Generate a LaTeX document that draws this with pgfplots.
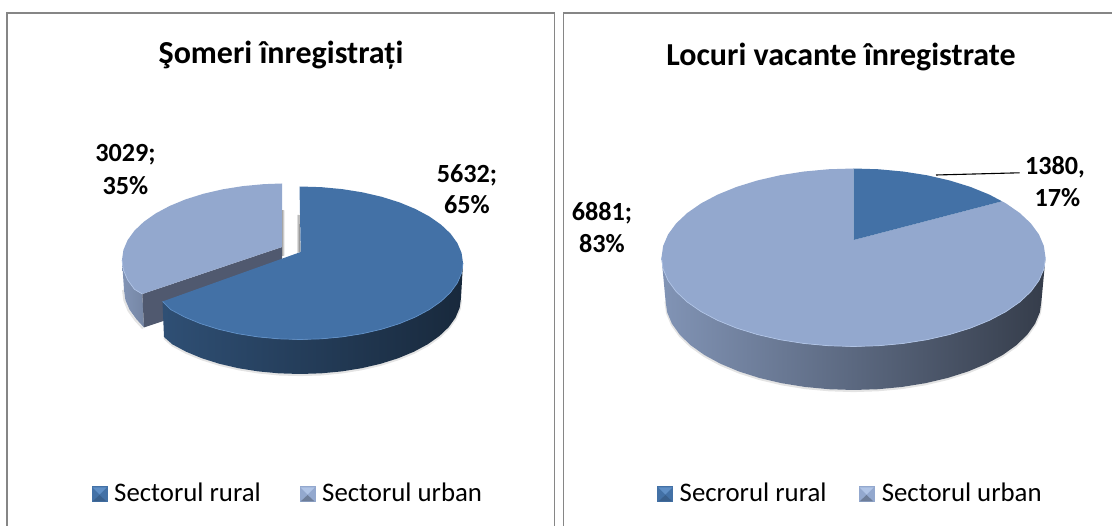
\documentclass[border=0pt]{standalone}
\usepackage{fontspec}
\setmainfont{Carlito}
\usepackage{pgfplots}
\pgfplotsset{compat=1.18}
\definecolor{ruralTop}{HTML}{4371A6}
\definecolor{urbanTop}{HTML}{93A8CE}
\definecolor{ruralRim}{HTML}{5F8FC6}
\definecolor{urbanRim}{HTML}{B0C4E6}
\definecolor{frameC}{HTML}{868686}
\definecolor{wallC}{HTML}{50596F}
\newcommand{\titlefont}{\fontsize{32}{36}\selectfont\bfseries}
\newcommand{\labelfont}{\fontsize{26.2}{32}\selectfont\bfseries}
\newcommand{\legfont}{\fontsize{26.8}{30}\selectfont}
\newcommand{\legmark}[5]{%
 \addplot[draw=none,fill=#4] coordinates {(#1,#2) (#1+16,#2) (#1+16,#2+15.5) (#1,#2+15.5)} --cycle;
 \addplot[draw=none,fill=#3] coordinates {(#1+1,#2+1) (#1+15,#2+1) (#1+8,#2+8)} --cycle;
 \addplot[draw=none,fill=#5] coordinates {(#1+1,#2+15) (#1+15,#2+15) (#1+8,#2+8.5)} --cycle;
}
\pgfplotsset{panel/.style={
  scale only axis, width=556pt, height=526pt, at={(#1,0pt)}, anchor=south west,
  ymin=0, ymax=526, y dir=reverse, hide axis, clip=false}}
\begin{document}
\begin{tikzpicture}[x=1pt,y=1pt]
\useasboundingbox (0,0) rectangle (1112pt,526pt);
% ---------- left panel
\begin{axis}[panel=0pt, xmin=0, xmax=556]
\addplot[draw=frameC,line width=1.4pt] coordinates {(7,526) (7,13) (554.3,13) (554.3,526)};
\node[font=\titlefont] at (axis cs:281,55) {Şomeri înregistrați};
% soft shadows
\addplot[draw=black!30,line width=2.2pt,opacity=.35] coordinates {(461,300) (459.62,309) (455.51,318.7) (448.75,328.1) (439.43,337) (427.74,345.3) (413.84,352.8) (398.02,359.3) (380.5,364.8) (361.61,369.2) (341.67,372.4) (321.01,374.4) (300,375) (278.99,374.4) (258.33,372.4) (238.39,369.2) (219.5,364.8) (201.98,359.3) (186.16,352.8) (172.26,345.3) (164,338)};
\addplot[draw=black!30,line width=2pt,opacity=.35] coordinates {(123,290) (124.4,300.5) (128.5,310.7) (135.2,320) (143,328.5)};
% urban slice outer side
\addplot[draw=none,left color=urbanTop!88!black,right color=urbanTop!80!black] coordinates {(142.3,294) (134.4,289.28) (127.56,279.8) (123.4,269.98) (122,260) (124,290) (125.4,300) (129.5,309.7) (136.2,319) (144,327.5)} --cycle;
% urban slice cut wall
\addplot[draw=none,fill=wallC] coordinates {(282,247) (142.3,294) (144,327.5) (282,281)} --cycle;
% urban slice top
\addplot[draw=none,fill=urbanTop] coordinates {(282,247) (142.3,294) (134.4,289.28) (127.56,279.8) (123.4,269.98) (122,260) (123.4,250.02) (127.56,240.2) (134.4,230.72) (143.84,221.75) (155.68,213.43) (169.74,205.91) (185.77,199.3) (203.5,193.75) (222.62,189.32) (242.82,186.11) (263.73,184.16) (282,183.5)} --cycle;
\addplot[draw=urbanRim,line width=.7pt] coordinates {(142.3,294) (134.4,289.28) (127.56,279.8) (123.4,269.98) (122,260)};
% gap shadows
\addplot[draw=none,left color=black!35,right color=white] coordinates {(282,211) (284.5,211) (284.5,256) (282,256)} --cycle;
\addplot[draw=none,left color=white,right color=black!60] coordinates {(296,215) (299.5,215) (300.5,252) (297,253)} --cycle;
% rural slice side
\addplot[draw=none,left color=ruralTop!70!black,middle color=ruralTop!55!black,right color=ruralTop!36!black] coordinates {(463,263) (461.6,272.98) (457.44,282.8) (450.6,292.28) (441.16,301.25) (429.32,309.57) (415.26,317.09) (399.23,323.7) (381.5,329.25) (362.38,333.68) (342.18,336.89) (321.27,338.84) (300,339.5) (278.73,338.84) (257.82,336.89) (237.62,333.68) (218.5,329.25) (200.77,323.7) (184.74,317.09) (170.68,309.57) (162.5,301.5) (164,337) (172.26,344.27) (186.16,351.74) (201.98,358.3) (219.5,363.82) (238.39,368.22) (258.33,371.41) (278.99,373.35) (300,374) (321.01,373.35) (341.67,371.41) (361.61,368.22) (380.5,363.82) (398.02,358.3) (413.84,351.74) (427.74,344.27) (439.43,336) (448.75,327.09) (455.51,317.67) (459.62,307.92) (461,298)} --cycle;
% rural slice top
\addplot[draw=none,fill=ruralTop] coordinates {(300.7,252) (162.5,301.5) (170.68,309.57) (184.74,317.09) (200.77,323.7) (218.5,329.25) (237.62,333.68) (257.82,336.89) (278.73,338.84) (300,339.5) (321.27,338.84) (342.18,336.89) (362.38,333.68) (381.5,329.25) (399.23,323.7) (415.26,317.09) (429.32,309.57) (441.16,301.25) (450.6,292.28) (457.44,282.8) (461.6,272.98) (463,263) (461.6,253.02) (457.44,243.2) (450.6,233.72) (441.16,224.75) (429.32,216.43) (415.26,208.91) (399.23,202.3) (381.5,196.75) (362.38,192.32) (342.18,189.11) (321.27,187.16) (299.5,186.5)} --cycle;
\addplot[draw=ruralRim,line width=.7pt] coordinates {(162.5,301.5) (170.68,309.57) (184.74,317.09) (200.77,323.7) (218.5,329.25) (237.62,333.68) (257.82,336.89) (278.73,338.84) (300,339.5) (321.27,338.84) (342.18,336.89) (362.38,333.68) (381.5,329.25) (399.23,323.7) (415.26,317.09) (429.32,309.57) (441.16,301.25) (450.6,292.28) (457.44,282.8) (461.6,272.98) (463,263)};
% data labels
\node[font=\labelfont] at (axis cs:467,175) {5632;};
\node[font=\labelfont] at (axis cs:467,205) {65\%};
\node[font=\labelfont] at (axis cs:125.5,154.5) {3029;};
\node[font=\labelfont] at (axis cs:125.5,185.5) {35\%};
% legend
\legmark{91.5}{486.5}{ruralRim}{ruralTop}{ruralTop!85!black}
\node[font=\legfont,anchor=base west,inner sep=0pt] at (axis cs:114,502) {Sectorul rural};
\legmark{299.6}{486.5}{urbanRim}{urbanTop}{urbanTop!75!black}
\node[font=\legfont,anchor=base west,inner sep=0pt] at (axis cs:322,502) {Sectorul urban};
\end{axis}
% ---------- right panel
\begin{axis}[panel=556pt, xmin=556, xmax=1112]
\addplot[draw=frameC,line width=1.4pt] coordinates {(563.3,526) (563.3,13) (1112,13)};
\node[font=\titlefont] at (axis cs:841,57) {Locuri vacante înregistrate};
% soft shadow
\addplot[draw=black!30,line width=2.2pt,opacity=.35] coordinates {(1041.5,301.5) (1039.88,313.2) (1035.09,324.7) (1027.19,335.8) (1016.31,346.3) (1002.66,356) (986.43,364.8) (967.95,372.5) (947.5,379) (925.45,384.2) (902.15,388) (878.03,390.2) (853.5,391) (828.97,390.2) (804.85,388) (781.55,384.2) (759.5,379) (739.05,372.5) (720.57,364.8) (704.34,356) (690.69,346.3) (679.81,335.8) (671.91,324.7) (667.12,313.2) (665.5,301.5)};
% side
\addplot[draw=none,left color=urbanTop!88!black,middle color=urbanTop!62!black,right color=urbanTop!36!black] coordinates {(1045.5,257.5) (1043.85,269.11) (1038.95,280.53) (1030.89,291.56) (1019.77,302) (1005.83,311.68) (989.26,320.43) (970.39,328.11) (949.5,334.57) (926.98,339.73) (903.19,343.47) (878.56,345.73) (853.5,346.5) (828.44,345.73) (803.81,343.47) (780.02,339.73) (757.5,334.57) (736.61,328.11) (717.74,320.43) (701.17,311.68) (687.23,302) (676.11,291.56) (668.05,280.53) (663.15,269.11) (661.5,257.5) (665.5,300.5) (667.12,312.18) (671.91,323.66) (679.81,334.75) (690.69,345.25) (704.34,354.99) (720.57,363.79) (739.05,371.51) (759.5,378.01) (781.55,383.19) (804.85,386.95) (828.97,389.23) (853.5,390) (878.03,389.23) (902.15,386.95) (925.45,383.19) (947.5,378.01) (967.95,371.51) (986.43,363.79) (1002.66,354.99) (1016.31,345.25) (1027.19,334.75) (1035.09,323.66) (1039.88,312.18) (1041.5,300.5)} --cycle;
% urban top
\addplot[draw=none,fill=urbanTop] coordinates {(853.7,240) (1002,201.3) (1005.83,203.32) (1019.77,213) (1030.89,223.44) (1038.95,234.47) (1043.85,245.89) (1045.5,257.5) (1043.85,269.11) (1038.95,280.53) (1030.89,291.56) (1019.77,302) (1005.83,311.68) (989.26,320.43) (970.39,328.11) (949.5,334.57) (926.98,339.73) (903.19,343.47) (878.56,345.73) (853.5,346.5) (828.44,345.73) (803.81,343.47) (780.02,339.73) (757.5,334.57) (736.61,328.11) (717.74,320.43) (701.17,311.68) (687.23,302) (676.11,291.56) (668.05,280.53) (663.15,269.11) (661.5,257.5) (663.15,245.89) (668.05,234.47) (676.11,223.44) (687.23,213) (701.17,203.32) (717.74,194.57) (736.61,186.89) (757.5,180.43) (780.02,175.27) (803.81,171.53) (828.44,169.27) (853.7,168.5)} --cycle;
\addplot[draw=urbanRim,line width=.7pt] coordinates {(1045.5,257.5) (1043.85,269.11) (1038.95,280.53) (1030.89,291.56) (1019.77,302) (1005.83,311.68) (989.26,320.43) (970.39,328.11) (949.5,334.57) (926.98,339.73) (903.19,343.47) (878.56,345.73) (853.5,346.5) (828.44,345.73) (803.81,343.47) (780.02,339.73) (757.5,334.57) (736.61,328.11) (717.74,320.43) (701.17,311.68) (687.23,302) (676.11,291.56) (668.05,280.53) (663.15,269.11) (661.5,257.5)};
% rural top
\addplot[draw=none,fill=ruralTop] coordinates {(853.7,240) (853.7,168.5) (878.56,169.27) (903.19,171.53) (926.98,175.27) (949.5,180.43) (970.39,186.89) (989.26,194.57) (1002,201.3)} --cycle;
% leader
\addplot[draw=black,line width=1.1pt] coordinates {(936,175) (1019.7,172.8)};
% data labels
\node[font=\labelfont] at (axis cs:1055,167) {1380,};
\node[font=\labelfont] at (axis cs:1057.5,198) {17\%};
\node[font=\labelfont] at (axis cs:602,213.5) {6881;};
\node[font=\labelfont] at (axis cs:602,243.5) {83\%};
% legend
\legmark{657.4}{486.5}{ruralRim}{ruralTop}{ruralTop!85!black}
\node[font=\legfont,anchor=base west,inner sep=0pt] at (axis cs:679.5,502) {Secrorul rural};
\legmark{858.5}{486.5}{urbanRim}{urbanTop}{urbanTop!75!black}
\node[font=\legfont,anchor=base west,inner sep=0pt] at (axis cs:881.6,502) {Sectorul urban};
\end{axis}
\end{tikzpicture}
\end{document}
